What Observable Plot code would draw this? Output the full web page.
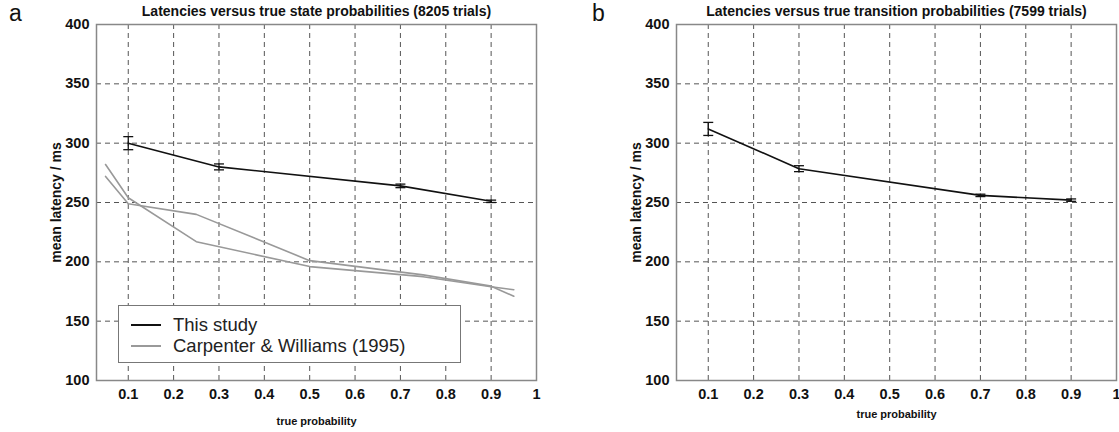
<!DOCTYPE html>
<html>
<head>
<meta charset="utf-8">
<script src="https://cdn.jsdelivr.net/npm/d3@7"></script>
<script src="https://cdn.jsdelivr.net/npm/@observablehq/plot@0.6"></script>
<style>
  html, body { margin: 0; padding: 0; background: #fff; }
  #wrap { position: relative; width: 1119px; height: 432px; overflow: hidden; font-family: "Liberation Sans", Arial, sans-serif; }
  .panel { position: absolute; top: 0; }
  .letter { position: absolute; font-size: 23px; color: #111; line-height: 23px; }
  .legend { position: absolute; background: #fff; border: 1.5px solid #777; box-sizing: border-box; font-size: 18.5px; color: #222; }
  .legend .row { position: absolute; left: 0; display: flex; align-items: center; line-height: 20px; }
  .legend .sw { width: 30px; height: 0; border-top: 2px solid; margin-left: 12px; margin-right: 12px; }
</style>
</head>
<body>
<div id="wrap"></div>
<script>
// ---- data ----
const xTicks = [0.1, 0.2, 0.3, 0.4, 0.5, 0.6, 0.7, 0.8, 0.9, 1];
const gridXTicks = [0.1, 0.2, 0.3, 0.4, 0.5, 0.6, 0.7, 0.8, 0.9];
const yTicks = [100, 150, 200, 250, 300, 350, 400];
const gridYTicks = [150, 200, 250, 300, 350];

const titleA = "Latencies versus true state probabilities (8205 trials)";
const titleB = "Latencies versus true transition probabilities (7599 trials)";

// panel a: this study
const probA = [0.1, 0.3, 0.7, 0.9];
const latA = [300, 280, 264, 251];
const errA = [5.5, 2.5, 1.5, 1];

// panel a: Carpenter & Williams (1995), two subjects
const cwProb = [0.05, 0.1, 0.25, 0.5, 0.75, 0.9, 0.95];
const cwLat1 = [282, 254, 217, 196, 187.5, 179, 176.5];
const cwLat2 = [272, 249, 240, 201, 189, 179.5, 171];

// panel b: this study
const probB = [0.1, 0.3, 0.7, 0.9];
const latB = [312, 278.5, 256, 252];
const errB = [5.5, 2.5, 1, 1];

const legendLabels = ["This study", "Carpenter & Williams (1995)"];

// ---- build ----
const study = (p, l, e) => p.map((v, i) => ({p: v, lat: l[i], err: e[i]}));
const series = (p, l, name) => p.map((v, i) => ({p: v, lat: l[i], s: name}));

const capHalf = 0.011;
const font = "'Liberation Sans', Arial, Helvetica, sans-serif";

function panel({title, studyData, extra = [], width, marginRight, xLabelDy}) {
  return Plot.plot({
    width, height: 432,
    marginLeft: 96, marginRight, marginTop: 24, marginBottom: 52,
    x: {domain: [0.03, 1]},
    y: {domain: [100, 400]},
    style: {fontFamily: font, fontSize: "14.5px", fontWeight: "bold", background: "transparent", color: "#111", overflow: "visible"},
    marks: [
      Plot.gridX(gridXTicks, {stroke: "#555", strokeOpacity: 1, strokeDasharray: "5,4", strokeWidth: 1}),
      Plot.gridY(gridYTicks, {stroke: "#555", strokeOpacity: 1, strokeDasharray: "5,4", strokeWidth: 1}),
      Plot.frame({stroke: "#888", strokeWidth: 1.5}),
      Plot.axisX(xTicks, {tickSize: 0, tickPadding: 8, tickFormat: d => String(d), label: null}),
      Plot.axisY(yTicks, {tickSize: 0, tickPadding: 7, label: null}),
      ...extra,
      Plot.line(studyData, {x: "p", y: "lat", stroke: "#111", strokeWidth: 1.6}),
      Plot.ruleX(studyData, {x: "p", y1: d => d.lat - d.err, y2: d => d.lat + d.err, stroke: "#111", strokeWidth: 1.3}),
      Plot.link(studyData, {x1: d => d.p - capHalf, x2: d => d.p + capHalf, y1: d => d.lat - d.err, y2: d => d.lat - d.err, stroke: "#111", strokeWidth: 1.3}),
      Plot.link(studyData, {x1: d => d.p - capHalf, x2: d => d.p + capHalf, y1: d => d.lat + d.err, y2: d => d.lat + d.err, stroke: "#111", strokeWidth: 1.3}),
      Plot.text([title], {text: d => d, frameAnchor: "top", dy: -18, fontSize: 14, fontWeight: "bold", fill: "#111"}),
      Plot.text(["true probability"], {text: d => d, frameAnchor: "bottom", dy: xLabelDy, fontSize: 11, fontWeight: "bold", fill: "#111"}),
      Plot.text(["mean latency / ms"], {text: d => d, frameAnchor: "left", textAnchor: "middle", dx: -40, rotate: -90, fontSize: 14, fontWeight: "bold", fill: "#111"})
    ]
  });
}

const wrap = document.getElementById("wrap");

const cwData = [...series(cwProb, cwLat1, "s1"), ...series(cwProb, cwLat2, "s2")];

const a = panel({
  title: titleA,
  studyData: study(probA, latA, errA),
  extra: [Plot.line(cwData, {x: "p", y: "lat", z: "s", stroke: "#999", strokeWidth: 1.6})],
  width: 560, marginRight: 24, xLabelDy: 44
});
a.classList.add("panel"); a.style.left = "0px";
wrap.appendChild(a);

const b = panel({
  title: titleB,
  studyData: study(probB, latB, errB),
  width: 539, marginRight: 3, xLabelDy: 37
});
b.classList.add("panel"); b.style.left = "580px";
wrap.appendChild(b);

// panel letters
[["a", 9], ["b", 592]].forEach(([t, x]) => {
  const d = document.createElement("div");
  d.className = "letter"; d.textContent = t;
  d.style.left = x + "px"; d.style.top = "2px";
  wrap.appendChild(d);
});

// legend (panel a)
const lg = document.createElement("div");
lg.className = "legend";
Object.assign(lg.style, {left: "118px", top: "305px", width: "343px", height: "58px"});
const colors = ["#111", "#999"];
legendLabels.forEach((t, i) => {
  const r = document.createElement("div");
  r.className = "row";
  r.style.top = (9 + i * 21) + "px";
  const sw = document.createElement("div");
  sw.className = "sw"; sw.style.borderTopColor = colors[i];
  const tx = document.createElement("span"); tx.textContent = t;
  r.appendChild(sw); r.appendChild(tx);
  lg.appendChild(r);
});
wrap.appendChild(lg);
</script>
</body>
</html>
